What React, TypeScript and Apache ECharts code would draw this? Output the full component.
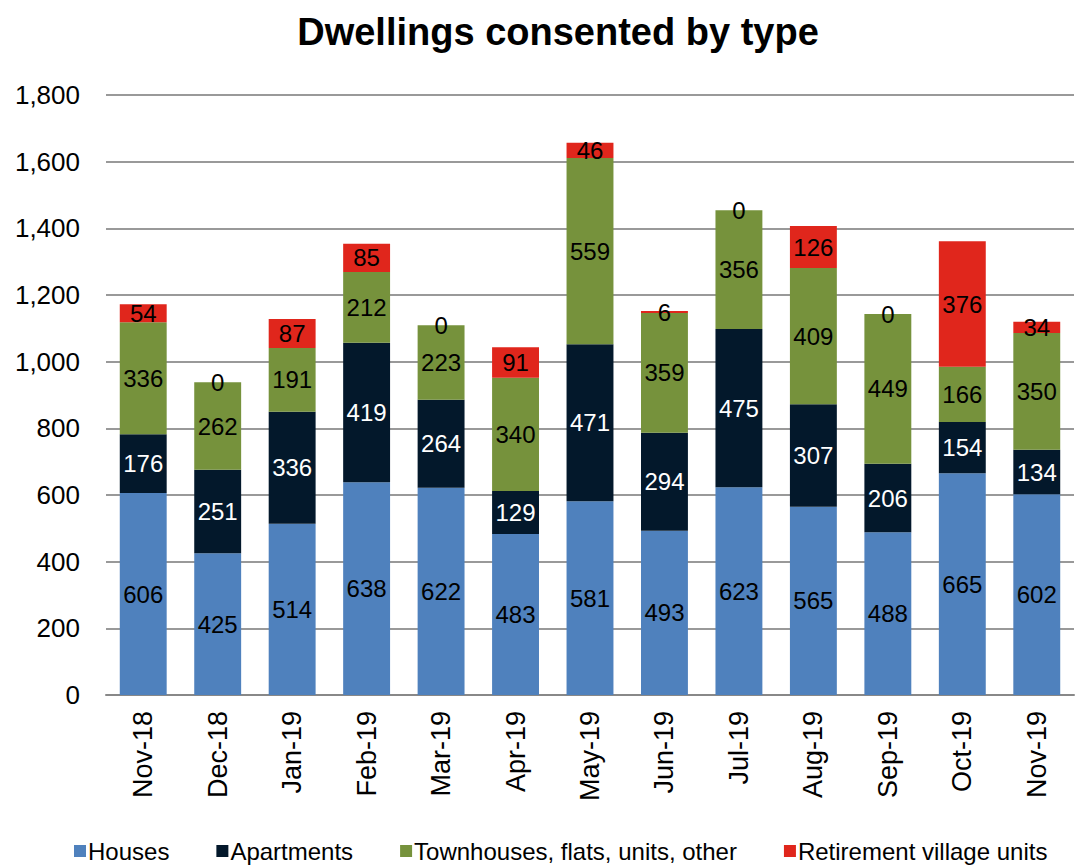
import React, { useEffect, useRef } from "react";
import * as echarts from "echarts";

const categories = ["Nov-18", "Dec-18", "Jan-19", "Feb-19", "Mar-19", "Apr-19", "May-19", "Jun-19", "Jul-19", "Aug-19", "Sep-19", "Oct-19", "Nov-19"];
const houses = [606, 425, 514, 638, 622, 483, 581, 493, 623, 565, 488, 665, 602];
const apartments = [176, 251, 336, 419, 264, 129, 471, 294, 475, 307, 206, 154, 134];
const townhouses = [336, 262, 191, 212, 223, 340, 559, 359, 356, 409, 449, 166, 350];
const retirement = [54, 0, 87, 85, 0, 91, 46, 6, 0, 126, 0, 376, 34];
const yTicks = [0, 200, 400, 600, 800, 1000, 1200, 1400, 1600, 1800];

const FONT = "'Liberation Sans', Arial, sans-serif";

export default function App() {
  const ref = useRef<HTMLDivElement>(null);
  useEffect(() => {
    document.body.style.margin = "0";
    if (!ref.current) return;
    const chart = echarts.init(ref.current, null, { renderer: "svg" });
    const mk = (name: string, data: number[], color: string, labelColor: string) => ({
      name,
      type: "bar",
      stack: "total",
      data,
      barWidth: "63%",
      itemStyle: { color },
      label: {
        show: true,
        position: "inside",
        color: labelColor,
        fontSize: 24,
        fontFamily: FONT,
      },
    });
    chart.setOption({
      animation: false,
      title: {
        text: "Dwellings consented by type",
        left: 553,
        textAlign: "center",
        top: 8,
        textStyle: { fontFamily: FONT, fontSize: 38, fontWeight: "bold", color: "#000" },
      },
      legend: {
        bottom: 5,
        left: 74,
        width: 1003,
        padding: 0,
        itemWidth: 12,
        itemHeight: 12,
        itemGap: 47,
        icon: "rect",
        textStyle: { fontFamily: FONT, fontSize: 24, color: "#000", padding: [0, 0, 0, -3] },
        data: ["Houses", "Apartments", "Townhouses, flats, units, other", "Retirement village units"],
      },
      grid: { left: 106, right: 3, top: 95, bottom: 173 },
      xAxis: {
        type: "category",
        data: categories,
        axisTick: { show: false },
        axisLine: { lineStyle: { color: "#888", width: 2 } },
        axisLabel: {
          rotate: 90,
          fontFamily: FONT,
          fontSize: 27,
          color: "#000",
          margin: 16,
        },
      },
      yAxis: {
        type: "value",
        min: 0,
        max: 1800,
        interval: 200,
        axisLine: { show: false },
        axisTick: { show: false },
        splitLine: { lineStyle: { color: "#999", width: 2 } },
        axisLabel: {
          fontFamily: FONT,
          fontSize: 26,
          color: "#000",
          margin: 26,
          formatter: (v: number) => (yTicks.includes(v) ? v.toLocaleString("en-US") : ""),
        },
      },
      series: [
        mk("Houses", houses, "#4F81BD", "#000"),
        mk("Apartments", apartments, "#03182B", "#fff"),
        mk("Townhouses, flats, units, other", townhouses, "#76923C", "#000"),
        mk("Retirement village units", retirement, "#E0261C", "#000"),
      ],
    });
    return () => chart.dispose();
  }, []);
  return <div ref={ref} style={{ width: 1077, height: 868 }} />;
}
